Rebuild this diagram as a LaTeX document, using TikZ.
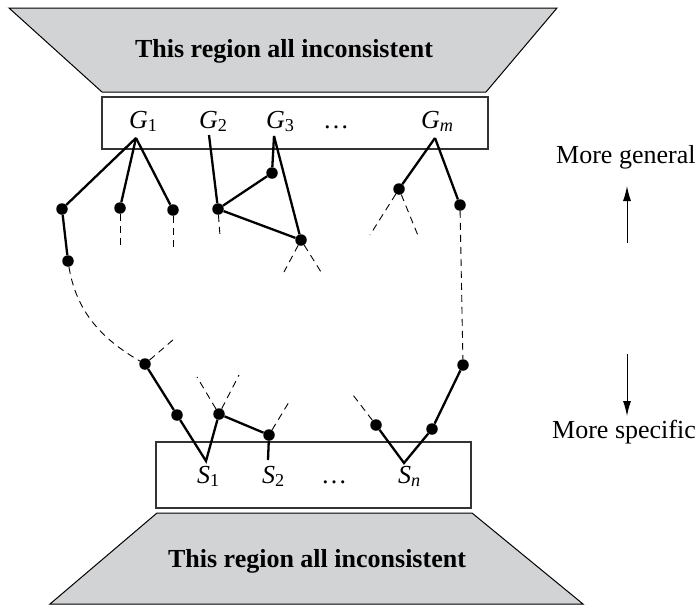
\documentclass[tikz,border=0pt]{standalone}
\usepackage{fontspec}
\setmainfont{Liberation Serif}
\usetikzlibrary{positioning,arrows.meta}
\definecolor{regiongray}{RGB}{210,211,213}
\tikzset{dot node/.style={circle,fill=black,draw=none,minimum size=11.5pt,inner
sep=0pt}}
\tikzset{tree edge/.style={line width=2.3pt}}
\tikzset{open edge/.style={line width=0.9pt,dash pattern=on 7pt off 5pt}}
\tikzset{region/.style={fill=regiongray,draw=black,line width=1pt}}
\tikzset{bound box/.style={draw=black!80,line width=1.2pt}}
\tikzset{set label/.style={anchor=base west,inner sep=0pt}}

\begin{document}
\begin{tikzpicture}[x=1pt,y=-1pt,font=\fontsize{26}{30}\selectfont]
\useasboundingbox (0,0) rectangle (698,605);

% inconsistent regions
\draw[region] (9,8) -- (557,8) -- (486,92) -- (102,92) -- cycle;
\draw[region] (157,513) -- (472,513) -- (583,604) -- (50,604) -- cycle;
\node[anchor=base,font=\fontsize{26}{30}\selectfont\bfseries] (topreg) at (284,57) {This region all inconsistent};
\node[anchor=base,font=\fontsize{26}{30}\selectfont\bfseries] (botreg) at (317,567) {This region all inconsistent};

% boundary sets
\draw[bound box] (102,97) rectangle (488,149);
\draw[bound box] (156,442) rectangle (471,508);

\node[set label] (lg1) at (129,128) {\textit{G}\textsubscript{1}};
\node[set label] (lg2) at (199,128) {\textit{G}\textsubscript{2}};
\node[set label] (lg3) at (266,128) {\textit{G}\textsubscript{3}};
\node[set label] (lgd) at (323,128) {\dots};
\node[set label] (lgm) at (421,128) {\textit{G}\textsubscript{\textit{m}}};

\node[set label] (ls1) at (197,483) {\textit{S}\textsubscript{1}};
\node[set label] (ls2) at (262,483) {\textit{S}\textsubscript{2}};
\node[set label] (lsd) at (321,483) {\dots};
\node[set label] (lsn) at (398,483) {\textit{S}\textsubscript{\textit{n}}};

\coordinate (G1) at (136,138);
\coordinate (G2) at (209,135);
\coordinate (G3) at (274,136);
\coordinate (Gm) at (435,138);
\coordinate (S1) at (206,461);
\coordinate (S2) at (268,460);
\coordinate (Sn) at (404,463);

% hypotheses
\node[dot node] (a1) at (62,209) {};
\node[dot node] (a2) at (68,261) {};
\node[dot node] (b) at (120,208) {};
\node[dot node] (c) at (173,210) {};
\node[dot node] (d) at (218,209) {};
\node[dot node] (e) at (272,173) {};
\node[dot node] (f) at (301,240) {};
\node[dot node] (g) at (399,189) {};
\node[dot node] (h) at (460,205) {};

\node[dot node] (p) at (145,364) {};
\node[dot node] (r) at (177,415) {};
\node[dot node] (t) at (219,414) {};
\node[dot node] (u) at (269,435) {};
\node[dot node] (v) at (376,425) {};
\node[dot node] (w) at (432,429) {};
\node[dot node] (q) at (463,365) {};

\foreach \x in {a1,b,c}{
    \draw[tree edge] (G1) -- (\x);
}
\draw[tree edge] (a1) -- (a2);
\draw[tree edge] (G2) -- (d);
\draw[tree edge] (d) -- (e);
\draw[tree edge] (d) -- (f);
\draw[tree edge] (G3) -- (e);
\draw[tree edge] (G3) -- (f);
\draw[tree edge] (Gm) -- (g);
\draw[tree edge] (Gm) -- (h);

\draw[tree edge] (p) -- (r) -- (S1) -- (t) -- (u) -- (S2);
\draw[tree edge] (v) -- (Sn) -- (w) -- (q);

% open ends
\coordinate (bx) at (120,248);
\coordinate (cx) at (173,248);
\coordinate (dx) at (220,236);
\coordinate (fx1) at (284,272);
\coordinate (fx2) at (321,272);
\coordinate (gx1) at (370,235);
\coordinate (gx2) at (419,238);
\coordinate (px) at (174,339);
\coordinate (tx1) at (197,377);
\coordinate (tx2) at (239,375);
\coordinate (ux) at (289,402);
\coordinate (vx) at (353,395);

\draw[open edge] (b) -- (bx);
\draw[open edge] (c) -- (cx);
\draw[open edge] (d) -- (dx);
\draw[open edge] (f) -- (fx1);
\draw[open edge] (f) -- (fx2);
\draw[open edge] (g) -- (gx1);
\draw[open edge] (g) -- (gx2);
\draw[open edge] (p) -- (px);
\draw[open edge] (t) -- (tx1);
\draw[open edge] (t) -- (tx2);
\draw[open edge] (u) -- (ux);
\draw[open edge] (v) -- (vx);
\draw[open edge] (h) -- (q);
\draw[open edge] (a2) .. controls (76,310) and (100,338) .. (p);

% direction
\node[anchor=base west,inner sep=0pt] (gen) at (556,163) {More general};
\node[anchor=base west,inner sep=0pt] (spec) at (552,438) {More specific};
\coordinate (up0) at (627,243);
\coordinate (up1) at (627,186);
\coordinate (dn0) at (627,354);
\coordinate (dn1) at (627,416);
\draw[line width=1pt,-{Latex[length=15pt,width=8pt]}] (up0) -- (up1);
\draw[line width=1pt,-{Latex[length=15pt,width=8pt]}] (dn0) -- (dn1);
\end{tikzpicture}
\end{document}
